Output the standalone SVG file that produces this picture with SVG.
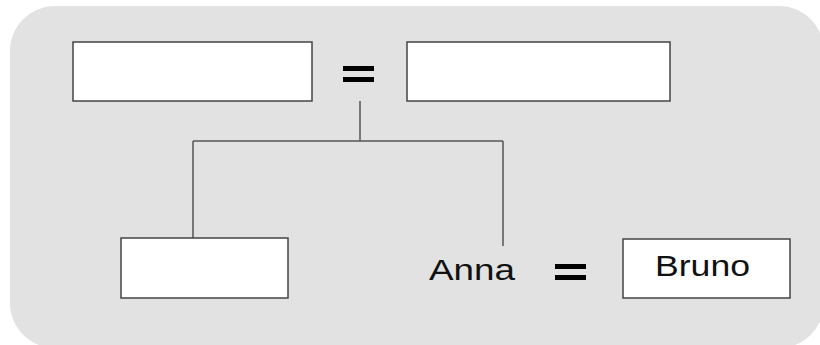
<svg xmlns="http://www.w3.org/2000/svg" width="820" height="345" viewBox="0 0 820 345">
<style>
.box{fill:#fff;stroke:#444;stroke-width:1.5}
.eq{fill:#000}
.ln{fill:none;stroke:#555;stroke-width:1.5}
.t{font-family:"Liberation Sans",Arial,sans-serif;font-size:30px;fill:#111}
</style>
<rect x="10" y="6" width="814" height="342" rx="45" ry="45" fill="#e2e2e2"/>
<g id="connectors">
<path class="ln" d="M360,101 V141 M193,141 H503 M193,141 V238 M503,141 V246"/>
</g>
<g id="parent1"><rect class="box" x="73" y="42" width="239" height="59"/></g>
<g id="marriage1"><rect class="eq" x="343" y="66" width="31" height="5"/><rect class="eq" x="343" y="77" width="31" height="5"/></g>
<g id="parent2"><rect class="box" x="407" y="42" width="263" height="59"/></g>
<g id="child1"><rect class="box" x="121" y="238" width="167" height="60"/></g>
<g id="anna"><text class="t" x="429" y="280" textLength="86" lengthAdjust="spacingAndGlyphs">Anna</text></g>
<g id="marriage2"><rect class="eq" x="555" y="264" width="31" height="5"/><rect class="eq" x="555" y="275" width="31" height="5"/></g>
<g id="bruno"><rect class="box" x="623" y="239" width="167" height="59"/><text class="t" x="655" y="276" textLength="95" lengthAdjust="spacingAndGlyphs">Bruno</text></g>
</svg>
